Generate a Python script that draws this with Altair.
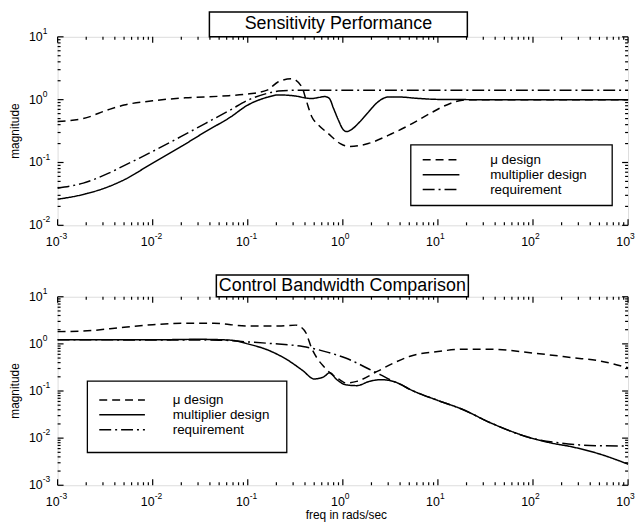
import altair as alt
import pandas as pd

FONT = "Liberation Sans"

# ---------------- data ----------------
series_names = ["μ design", "multiplier design", "requirement"]
dash_styles = [[8, 5], [1, 0], [12, 4, 2, 4]]

# Sensitivity Performance
top_mu_f = [1e-3, 1.86e-3, 3.4e-3, 5e-3, 1e-2, 2.2e-2, 5.4e-2, 0.1, 0.16, 0.21, 0.29, 0.37, 0.41, 0.47,
            0.55, 0.7, 0.94, 1.15, 1.85, 3.0, 5.1, 8.2, 13.5, 18, 22, 100, 1000]
top_mu_m = [0.45, 0.50, 0.69, 0.82, 0.96, 1.07, 1.14, 1.23, 1.42, 1.93, 2.15, 1.6, 1.0, 0.54,
            0.40, 0.29, 0.20, 0.18, 0.20, 0.27, 0.40, 0.60, 0.87, 0.98, 1.0, 1.0, 1.0]

top_mult_f = [1e-3, 1.86e-3, 3.4e-3, 5e-3, 1e-2, 2e-2, 3.6e-2, 6.6e-2, 0.1, 0.16, 0.21, 0.32, 0.43, 0.47,
              0.55, 0.65, 0.72, 0.8, 0.9, 1.0, 1.1, 1.25, 1.5, 1.8, 2.3, 3.0, 4.0, 6.0, 10, 30, 1000]
top_mult_m = [0.026, 0.031, 0.041, 0.053, 0.098, 0.18, 0.31, 0.53, 0.82, 1.09, 1.19, 1.14, 1.05, 1.04,
              1.08, 1.12, 1.05, 0.72, 0.47, 0.34, 0.31, 0.34, 0.44, 0.60, 0.90, 1.10, 1.10, 1.05, 1.01, 1.0, 1.0]

top_req_f = [1e-3, 1.86e-3, 3.4e-3, 5e-3, 1e-2, 2e-2, 3.6e-2, 6.6e-2, 0.1, 0.16, 0.21, 0.3, 1000]
top_req_m = [0.039, 0.047, 0.067, 0.089, 0.15, 0.26, 0.42, 0.69, 0.98, 1.26, 1.37, 1.41, 1.41]

# Control Bandwidth Comparison
bot_mu_f = [1e-3, 1.86e-3, 5e-3, 1e-2, 2.2e-2, 4.4e-2, 0.1, 0.21, 0.32, 0.36, 0.41, 0.47, 0.55, 0.63,
            0.78, 0.94, 1.07, 1.4, 2.3, 3.4, 5, 10, 19, 36, 100, 260, 520, 1000]
bot_mu_m = [1.82, 1.87, 2.25, 2.55, 2.73, 2.73, 2.4, 2.4, 2.5, 2.3, 1.7, 0.81, 0.46, 0.33,
            0.22, 0.17, 0.148, 0.16, 0.26, 0.39, 0.54, 0.69, 0.77, 0.77, 0.64, 0.51, 0.43, 0.31]

bot_mult_f = [1e-3, 1e-2, 3e-2, 6.6e-2, 0.1, 0.16, 0.26, 0.38, 0.5, 0.63, 0.73, 0.85, 1.07, 1.4, 1.9,
              2.5, 3.4, 4.0, 5, 10, 18, 36, 100, 150, 260, 520, 1000]
bot_mult_m = [1.22, 1.22, 1.25, 1.2, 1.0, 0.75, 0.46, 0.27, 0.18, 0.2, 0.245, 0.18, 0.136, 0.13, 0.16,
              0.174, 0.16, 0.14, 0.11, 0.063, 0.041, 0.021, 0.0098, 0.008, 0.0065, 0.0045, 0.0028]

bot_req_f = [1e-3, 5e-2, 0.1, 0.21, 0.38, 0.7, 1.07, 1.9, 2.5, 3.2, 4.0, 5, 10, 18, 36, 100, 200, 300, 500, 1000]
bot_req_m = [1.22, 1.2, 1.1, 0.99, 0.88, 0.66, 0.5, 0.29, 0.22, 0.17, 0.14, 0.11, 0.063, 0.041, 0.021,
             0.0098, 0.0078, 0.0072, 0.0069, 0.0068]

x_decades = [1e-3, 1e-2, 1e-1, 1e0, 1e1, 1e2, 1e3]
x_exps = ["-3", "-2", "-1", "0", "1", "2", "3"]
top_y_decades = [1e-2, 1e-1, 1e0, 1e1]
top_y_exps = ["-2", "-1", "0", "1"]
bot_y_decades = [1e-3, 1e-2, 1e-1, 1e0, 1e1]
bot_y_exps = ["-3", "-2", "-1", "0", "1"]

W, H = 575, 190
LW = 1.5


def minor(decs):
    return [k * d for d in decs[:-1] for k in range(2, 10)]


def long_df(pairs):
    rows = []
    for name, fs, ms in pairs:
        for f, m in zip(fs, ms):
            rows.append({"f": f, "m": m, "series": name})
    return pd.DataFrame(rows)


def panel(title, title_x, title_h, df, ydec, yexp, ydomain, legend_box, legend_rows,
          sample_x, text_x, show_xlabel):
    xs = alt.Scale(type="log", domain=[1e-3, 1e3], nice=False)
    ys = alt.Scale(type="log", domain=ydomain, nice=False)
    one = pd.DataFrame({"a": [0]})

    lines = alt.Chart(df).mark_line(color="black", strokeWidth=LW, interpolate="monotone").encode(
        x=alt.X("f:Q", scale=xs, axis=None),
        y=alt.Y("m:Q", scale=ys, axis=None),
        strokeDash=alt.StrokeDash("series:N", scale=alt.Scale(domain=series_names, range=dash_styles),
                                  legend=None),
        detail="series:N",
    )

    xmaj = pd.DataFrame({"v": x_decades, "e": x_exps})
    xmin = pd.DataFrame({"v": minor(x_decades)})
    ymaj = pd.DataFrame({"v": ydec, "e": yexp})
    ymin = pd.DataFrame({"v": minor(ydec)})

    layers = [lines]
    for dfv, ln in ((xmaj, 6), (xmin, 3)):
        base = alt.Chart(dfv).mark_rule(color="black", strokeWidth=1.2)
        layers.append(base.encode(x=alt.X("v:Q", scale=xs, axis=None), y=alt.value(H), y2=alt.value(H - ln)))
        layers.append(base.encode(x=alt.X("v:Q", scale=xs, axis=None), y=alt.value(0), y2=alt.value(ln)))
    for dfv, ln in ((ymaj, 6), (ymin, 3)):
        base = alt.Chart(dfv).mark_rule(color="black", strokeWidth=1.2)
        layers.append(base.encode(y=alt.Y("v:Q", scale=ys, axis=None), x=alt.value(0), x2=alt.value(ln)))
        layers.append(base.encode(y=alt.Y("v:Q", scale=ys, axis=None), x=alt.value(W), x2=alt.value(W - ln)))

    # tick labels 10^e
    layers.append(alt.Chart(xmaj).mark_text(text="10", align="right", baseline="middle", fontSize=12.5,
                                            font=FONT, dx=2).encode(
        x=alt.X("v:Q", scale=xs, axis=None), y=alt.value(H + 17)))
    layers.append(alt.Chart(xmaj).mark_text(align="left", baseline="middle", fontSize=8.5,
                                            font=FONT, dx=2, dy=-6).encode(
        x=alt.X("v:Q", scale=xs, axis=None), y=alt.value(H + 17), text="e:N"))
    layers.append(alt.Chart(ymaj).mark_text(text="10", align="right", baseline="middle", fontSize=12.5,
                                            font=FONT).encode(
        y=alt.Y("v:Q", scale=ys, axis=None), x=alt.value(-15)))
    layers.append(alt.Chart(ymaj).mark_text(align="left", baseline="middle", fontSize=8.5,
                                            font=FONT, dy=-6).encode(
        y=alt.Y("v:Q", scale=ys, axis=None), x=alt.value(-15), text="e:N"))

    # y title
    layers.append(alt.Chart(one).mark_text(text="magnitude", angle=270, fontSize=12, font=FONT,
                                           baseline="middle").encode(x=alt.value(-43), y=alt.value(H / 2)))
    if show_xlabel:
        layers.append(alt.Chart(one).mark_text(text="freq in rads/sec", fontSize=12, font=FONT,
                                               baseline="middle").encode(x=alt.value(291), y=alt.value(H + 30)))

    # title box
    layers.append(alt.Chart(one).mark_rect(fill="white", stroke="black", strokeWidth=1.5).encode(
        x=alt.value(title_x[0]), x2=alt.value(title_x[1]), y=alt.value(-title_h), y2=alt.value(0)))
    layers.append(alt.Chart(one).mark_text(text=title, fontSize=18, font=FONT, baseline="middle").encode(
        x=alt.value((title_x[0] + title_x[1]) / 2), y=alt.value(-title_h / 2)))

    # legend box
    bx0, bx1, by0, by1 = legend_box
    layers.append(alt.Chart(one).mark_rect(fill="white", stroke="black", strokeWidth=1.3).encode(
        x=alt.value(bx0), x2=alt.value(bx1), y=alt.value(by0), y2=alt.value(by1)))
    for name, dash, ry in zip(series_names, dash_styles, legend_rows):
        layers.append(alt.Chart(one).mark_rule(color="black", strokeWidth=LW, strokeDash=dash).encode(
            x=alt.value(sample_x[0]), x2=alt.value(sample_x[1]), y=alt.value(ry)))
        layers.append(alt.Chart(one).mark_text(text=name, align="left", baseline="middle", fontSize=13.5,
                                               font=FONT).encode(x=alt.value(text_x), y=alt.value(ry)))

    return alt.layer(*layers).properties(width=W, height=H)


top_df = long_df([(series_names[0], top_mu_f, top_mu_m),
                  (series_names[1], top_mult_f, top_mult_m),
                  (series_names[2], top_req_f, top_req_m)])
bot_df = long_df([(series_names[0], bot_mu_f, bot_mu_m),
                  (series_names[1], bot_mult_f, bot_mult_m),
                  (series_names[2], bot_req_f, bot_req_m)])

top = panel("Sensitivity Performance", (153, 413), 25, top_df, top_y_decades, top_y_exps, [1e-2, 1e1],
            (356, 559, 109, 170), (124, 139, 154), (368, 405), 436, False)
bot = panel("Control Bandwidth Comparison", (160, 414), 22, bot_df, bot_y_decades, bot_y_exps, [1e-3, 1e1],
            (30, 231, 85, 157), (104, 119, 134), (42, 88), 116, True)

chart = alt.vconcat(top, bot, spacing=72, bounds="flush").properties(
    padding={"left": 0, "top": 0, "right": 0, "bottom": 0}
).configure_view(stroke="black", strokeWidth=1.6).configure(background="white")

chart.save("out.html", embed_options={"renderer": "svg", "actions": False})
